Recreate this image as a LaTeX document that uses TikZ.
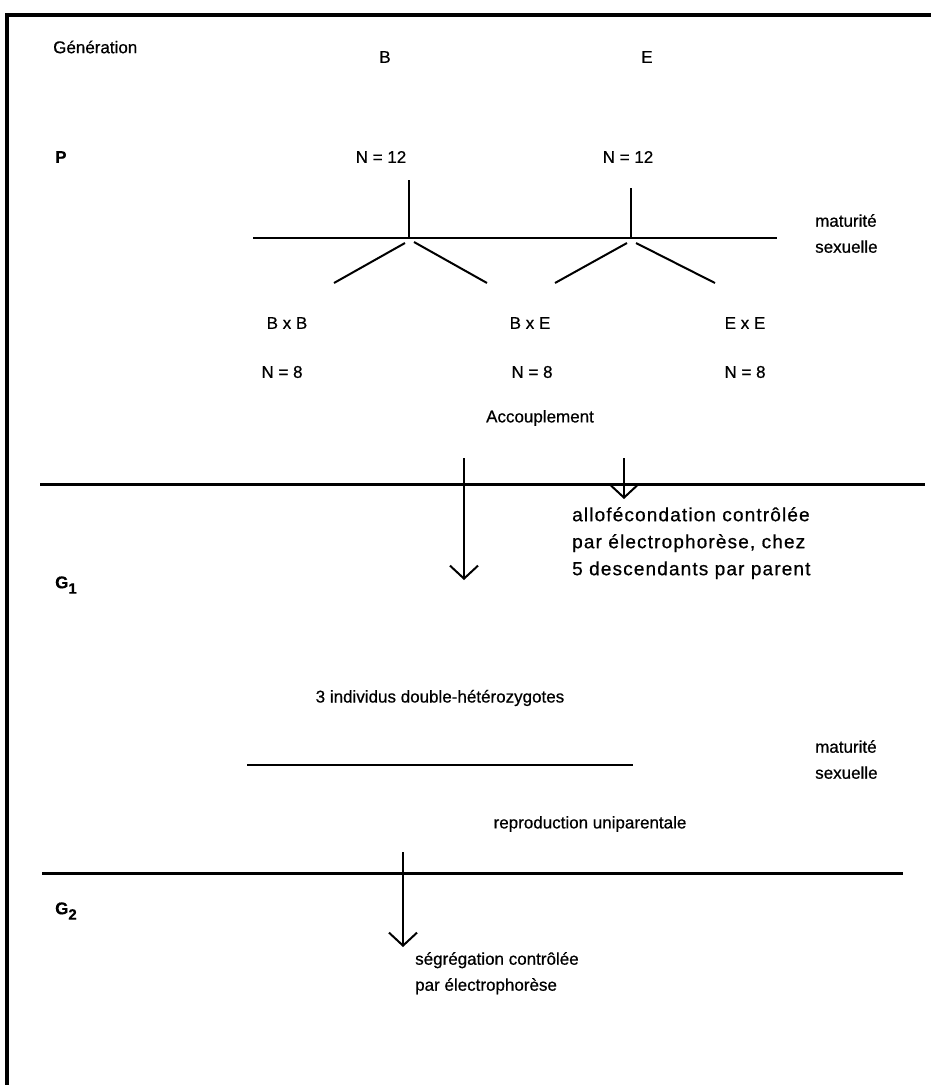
\documentclass[tikz,border=0pt]{standalone}
\usepackage{fontspec}
\setmainfont{Liberation Sans}[FakeBold=0.6]
\newfontfamily\widefont{Liberation Sans}[FakeBold=0.6, LetterSpace=6]
\usetikzlibrary{arrows.meta}
\tikzset{
  lbl/.style={font=\fontsize{17}{21}\selectfont, inner sep=0pt},
  lblL/.style={lbl, anchor=west},
  gen/.style={font=\bfseries\fontsize{17}{21}\selectfont, inner sep=0pt, anchor=west},
  multi/.style={lbl, anchor=north west, align=left, font=\fontsize{17}{26}\selectfont},
  widemulti/.style={lbl, anchor=north west, align=left, font=\widefont\fontsize{19}{27}\selectfont},
  thinline/.style={line width=1.2pt},
  thickline/.style={line width=3pt},
  frameline/.style={line width=4pt},
  treeline/.style={line width=2pt},
  flow/.style={line width=1.8pt, -{Straight Barb[length=13pt, width=28pt, line width=2pt]}},
}
\newcommand{\gsub}[1]{\raisebox{-0.6ex}{\fontsize{15}{15}\selectfont #1}}
\begin{document}
\begin{tikzpicture}[x=1pt,y=-1pt]
\useasboundingbox (0,0) rectangle (931,1085);
% frame (top and left edges)
\draw[frameline] (931,15) -- (7,15) -- (7,1085);

% generation labels
\node[lblL] (gen) at (53,47) {Génération};
\node[gen] (P) at (55,157) {P};
\node[gen] (G1) at (55,585) {G\gsub{1}};
\node[gen] (G2) at (55,911) {G\gsub{2}};

% parents
\node[lbl] (B) at (385,57) {B};
\node[lbl] (E) at (647,57) {E};
\node[lbl] (NB) at (381,157) {N = 12};
\node[lbl] (NE) at (628,157) {N = 12};

% maturity line P
\coordinate (m1a) at (253,238);
\coordinate (m1b) at (777,238);
\draw[thinline] (m1a) -- (m1b);
\node[multi] (mat1) at (815,214) {maturité\\sexuelle};

% tree
\coordinate (jB) at (409,238);
\coordinate (jE) at (631,238);
\coordinate (vB) at (409,180);
\coordinate (vE) at (631,188);
\draw[treeline] (vB) -- (jB);
\draw[treeline] (vE) -- (jE);
\coordinate (dB1) at (334,283);
\coordinate (dB2) at (487,283);
\coordinate (dE1) at (555,283);
\coordinate (dE2) at (715,283);
\coordinate (sB1) at (405,243);
\coordinate (sB2) at (414,242);
\coordinate (sE1) at (627,243);
\coordinate (sE2) at (636,243);
\draw[treeline] (sB1) -- (dB1);
\draw[treeline] (sB2) -- (dB2);
\draw[treeline] (sE1) -- (dE1);
\draw[treeline] (sE2) -- (dE2);

% crosses
\node[lbl] (BB) at (287,323) {B x B};
\node[lbl] (BE) at (530,323) {B x E};
\node[lbl] (EE) at (745,323) {E x E};
\node[lbl] (N1) at (282,372) {N = 8};
\node[lbl] (N2) at (532,372) {N = 8};
\node[lbl] (N3) at (745,372) {N = 8};
\node[lbl] (acc) at (540,418) {Accouplement};

% G1 separator
\coordinate (s1a) at (40,484);
\coordinate (s1b) at (925,484);
\draw[thickline] (s1a) -- (s1b);

% arrows
\coordinate (a1s) at (464,458);
\coordinate (a1e) at (464,580);
\coordinate (a2s) at (624,458);
\coordinate (a2e) at (624,499);
\draw[flow] (a1s) -- (a1e);
\draw[flow] (a2s) -- (a2e);

\node[widemulti] (allo) at (572,507) {allofécondation contrôlée\\par électrophorèse, chez\\5 descendants par parent};

\node[lbl] (ind) at (440,698) {3 individus double-hétérozygotes};
\coordinate (m2a) at (247,765);
\coordinate (m2b) at (633,765);
\draw[thinline] (m2a) -- (m2b);
\node[multi] (mat2) at (815,740) {maturité\\sexuelle};

\node[lbl] (repro) at (590,824) {reproduction uniparentale};

% G2 separator
\coordinate (s2a) at (42,873);
\coordinate (s2b) at (903,873);
\draw[thickline] (s2a) -- (s2b);

\coordinate (a3s) at (403,852);
\coordinate (a3e) at (403,947);
\draw[flow] (a3s) -- (a3e);

\node[multi] (seg) at (415,952) {ségrégation contrôlée\\par électrophorèse};
\end{tikzpicture}
\end{document}
